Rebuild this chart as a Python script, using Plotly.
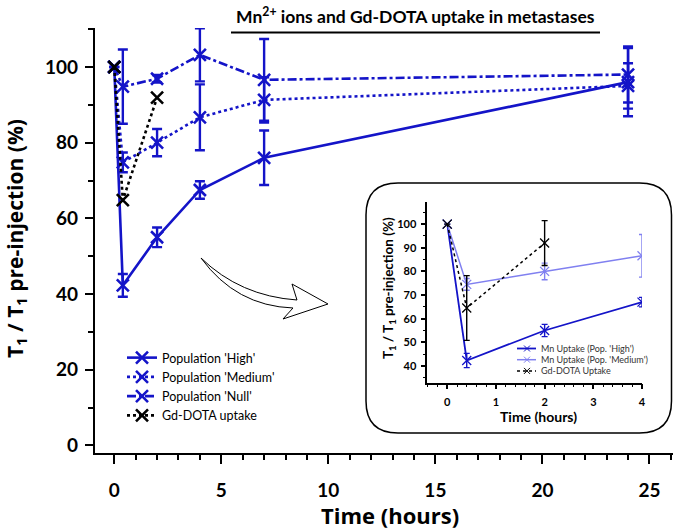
import plotly.graph_objects as go

# ---------------- data (main chart) ----------------
t_main = [0, 0.4, 2, 4, 7, 24]
high = [100, 42.3, 55, 67.5, 76, 96]
high_err = [0, 3, 2.6, 2.3, 7.2, 9]
medium = [100, 74.8, 80, 86.7, 91.3, 95]
medium_err = [0, 2.6, 3.6, 8.7, 6, 6]
null = [100, 94.8, 96.9, 103.2, 96.6, 98]
null_err = [0, 9.8, 1, 7, 10.8, 7.4]
t_gd = [0, 0.4, 2]
gd = [100, 64.8, 91.9]

# ---------------- data (inset) ----------------
t_in = [0, 0.4, 2, 4]
in_high = [100, 42.3, 55, 67]
in_high_err = [0, 3, 2.6, 2]
in_med = [100, 74.5, 80, 86.6]
in_med_err = [0, 2.5, 3.5, 9]
t_in_gd = [0, 0.4, 2]
in_gd = [100, 64.5, 92]
in_gd_err = [0, 13.7, 9.5]
inset_names = ["Mn Uptake (Pop. 'High')", "Mn Uptake (Pop. 'Medium')", "Gd-DOTA Uptake"]

BLUE = "#1414c8"
LIGHT = "#8080f0"
FONT = "Lato"
TFONT = "Open Sans"

W, H = 675, 532
L, R, T, B = 95, 2, 28, 79
PW, PH = W - L - R, H - T - B


def px(x, y):
    return (x - L) / PW, (H - B - y) / PH


fig = go.Figure()


def main_trace(x, y, err, name, dash, color=BLUE, width=2.6):
    fig.add_trace(go.Scatter(
        x=x, y=y, name=name, mode="lines+markers",
        line=dict(color=color, width=width, dash=dash),
        marker=dict(symbol="x-thin", size=12, line=dict(color=color, width=2.6)),
        error_y=dict(type="data", array=err, visible=err is not None,
                     color=color, thickness=2.4, width=5),
        xaxis="x", yaxis="y", legend="legend",
    ))


main_trace(t_main, high, high_err, "Population 'High'", "solid")
main_trace(t_main, medium, medium_err, "Population 'Medium'", "dot")
main_trace(t_main, null, null_err, "Population 'Null'", "dashdot")
main_trace(t_gd, gd, None, "Gd-DOTA uptake", "dot", color="black", width=2.6)

inset_styles = [("solid", BLUE, 1.8), ("solid", LIGHT, 1.5), ("dot", "black", 1.5)]
inset_data = [(t_in, in_high, in_high_err), (t_in, in_med, in_med_err),
              (t_in_gd, in_gd, in_gd_err)]
for (xv, yv, ev), (dash, color, width), nm in zip(inset_data, inset_styles, inset_names):
    fig.add_trace(go.Scatter(
        x=xv, y=yv, name=nm, mode="lines+markers", showlegend=False,
        line=dict(color=color, width=width, dash=dash),
        marker=dict(symbol="x-thin", size=9, line=dict(color=color, width=1.3)),
        error_y=dict(type="data", array=ev, color=color, thickness=1.4, width=3),
        xaxis="x2", yaxis="y2",
    ))

# ---------------- shapes ----------------
f = lambda p: f"{p[0]:.5f},{p[1]:.5f}"

# rounded inset frame
x0, y0, x1, y1, r = 366, 183, 671.5, 433, 32
pts = {
    "a": px(x0 + r, y0), "b": px(x1 - r, y0), "c": px(x1, y0), "d": px(x1, y0 + r),
    "e": px(x1, y1 - r), "f": px(x1, y1), "g": px(x1 - r, y1), "h": px(x0 + r, y1),
    "i": px(x0, y1), "j": px(x0, y1 - r), "k": px(x0, y0 + r), "l": px(x0, y0),
}
path = (f"M {f(pts['a'])} L {f(pts['b'])} Q {f(pts['c'])} {f(pts['d'])} "
        f"L {f(pts['e'])} Q {f(pts['f'])} {f(pts['g'])} L {f(pts['h'])} "
        f"Q {f(pts['i'])} {f(pts['j'])} L {f(pts['k'])} Q {f(pts['l'])} {f(pts['a'])} Z")
fig.add_shape(type="path", path=path, xref="paper", yref="paper",
              line=dict(color="black", width=1.5), fillcolor="white", layer="below")

# hollow curved arrow
ap = [(201, 258), (240, 296), (297, 300), (292, 284), (328, 304),
      (283, 319), (293, 308), (236, 306), (201, 258)]
ap = [px(*p) for p in ap]
apath = (f"M {f(ap[0])} Q {f(ap[1])} {f(ap[2])} L {f(ap[3])} L {f(ap[4])} "
         f"L {f(ap[5])} L {f(ap[6])} Q {f(ap[7])} {f(ap[8])} Z")
fig.add_shape(type="path", path=apath, xref="paper", yref="paper",
              line=dict(color="black", width=1), fillcolor="white")

# title underline
ta, tb = px(231, 32.5), px(600, 32.5)
fig.add_shape(type="line", xref="paper", yref="paper", x0=ta[0], x1=tb[0],
              y0=ta[1], y1=tb[1], line=dict(color="black", width=2))


def note(text, x, y, size, angle=0, anchor="center", color="black", family=FONT):
    p = px(x, y)
    fig.add_annotation(text=text, xref="paper", yref="paper", x=p[0], y=p[1],
                       showarrow=False, textangle=angle,
                       font=dict(family=family, size=size, color=color),
                       xanchor=anchor, yanchor="middle")


note("<b>Mn<sup>2+</sup> ions and Gd-DOTA uptake in metastases</b>", 415, 16, 17.5)
# main axis titles
note("<b>T<sub>1</sub> / T<sub>1</sub> pre-injection (%)</b>", 16, 238, 21,
     angle=-90, family=TFONT)
note("<b>Time (hours)</b>", 390, 515, 22, family=TFONT)
# inset axis titles
note("<b>T<sub>1</sub> / T<sub>1</sub> pre-injection (%)</b>", 389, 288, 13.5, angle=-90)
note("<b>Time (hours)</b>", 538, 416, 14)

# inset legend (drawn manually for compact spacing)
for k, ((dash, color, width), nm) in enumerate(zip(inset_styles, inset_names)):
    yy = 348.5 + k * 11.2
    a, b = px(517, yy), px(536, yy)
    fig.add_shape(type="line", xref="paper", yref="paper", x0=a[0], x1=b[0], y0=a[1], y1=b[1],
                  line=dict(color=color, width=width, dash=dash))
    c1, c2 = px(524, yy - 3), px(530, yy + 3)
    fig.add_shape(type="line", xref="paper", yref="paper", x0=c1[0], x1=c2[0], y0=c1[1], y1=c2[1],
                  line=dict(color=color, width=1))
    fig.add_shape(type="line", xref="paper", yref="paper", x0=c1[0], x1=c2[0], y0=c2[1], y1=c1[1],
                  line=dict(color=color, width=1))
    note(nm, 539, yy, 9, anchor="left", color="#333333")

# domains for inset
ix0, iy0 = px(427.3, 382.7)
ix1, iy1 = px(642, 201.7)

axis_common = dict(showgrid=False, zeroline=False, showline=True, linecolor="black",
                   ticks="outside", tickcolor="black", mirror=False, automargin=False)

lg = px(122, 343)

fig.update_layout(
    width=W, height=H,
    margin=dict(l=L, r=R, t=T, b=B, autoexpand=False),
    paper_bgcolor="white", plot_bgcolor="white",
    font=dict(family=FONT, color="black"),
    xaxis=dict(**axis_common, domain=[0, 1], range=[-0.9, 26.1],
               tickvals=[0, 5, 10, 15, 20, 25], linewidth=2.2, tickwidth=2.2, ticklen=9,
               minor=dict(dtick=1, tick0=0, ticks="outside", ticklen=5, tickwidth=2, tickcolor="black"),
               tickfont=dict(family=FONT, size=19, weight="bold"), ticklabelstandoff=10),
    yaxis=dict(**axis_common, domain=[0, 1], range=[-2, 110.3],
               tickvals=[0, 20, 40, 60, 80, 100], linewidth=2.2, tickwidth=2.2, ticklen=8,
               minor=dict(dtick=10, tick0=0, ticks="outside", ticklen=5, tickwidth=2, tickcolor="black"),
               tickfont=dict(family=FONT, size=19, weight="bold"), ticklabelstandoff=3),
    xaxis2=dict(**axis_common, domain=[ix0, ix1], anchor="y2", range=[-0.41, 4.0],
                tickvals=[0, 1, 2, 3, 4], linewidth=1.5, tickwidth=1.5, ticklen=5,
                minor=dict(dtick=0.2, tick0=0, ticks="outside", ticklen=3, tickwidth=1.2, tickcolor="black"),
                tickfont=dict(family=FONT, size=11, weight="bold"), ticklabelstandoff=3),
    yaxis2=dict(**axis_common, domain=[iy0, iy1], anchor="x2", range=[32.9, 109.5],
                tickvals=[40, 50, 60, 70, 80, 90, 100], linewidth=1.5, tickwidth=1.5, ticklen=5,
                minor=dict(dtick=5, tick0=0, ticks="outside", ticklen=3, tickwidth=1.2, tickcolor="black"),
                tickfont=dict(family=FONT, size=11, weight="bold"), ticklabelstandoff=2),
    legend=dict(x=lg[0], y=lg[1], xanchor="left", yanchor="top", bgcolor="rgba(0,0,0,0)",
                font=dict(family=FONT, size=12.5), itemwidth=30, tracegroupgap=0,
                borderwidth=0),
    showlegend=True,
)

fig.write_html("out.html", config={"displayModeBar": False},
               post_script="document.body.style.margin='0px';document.body.style.overflow='hidden';")
